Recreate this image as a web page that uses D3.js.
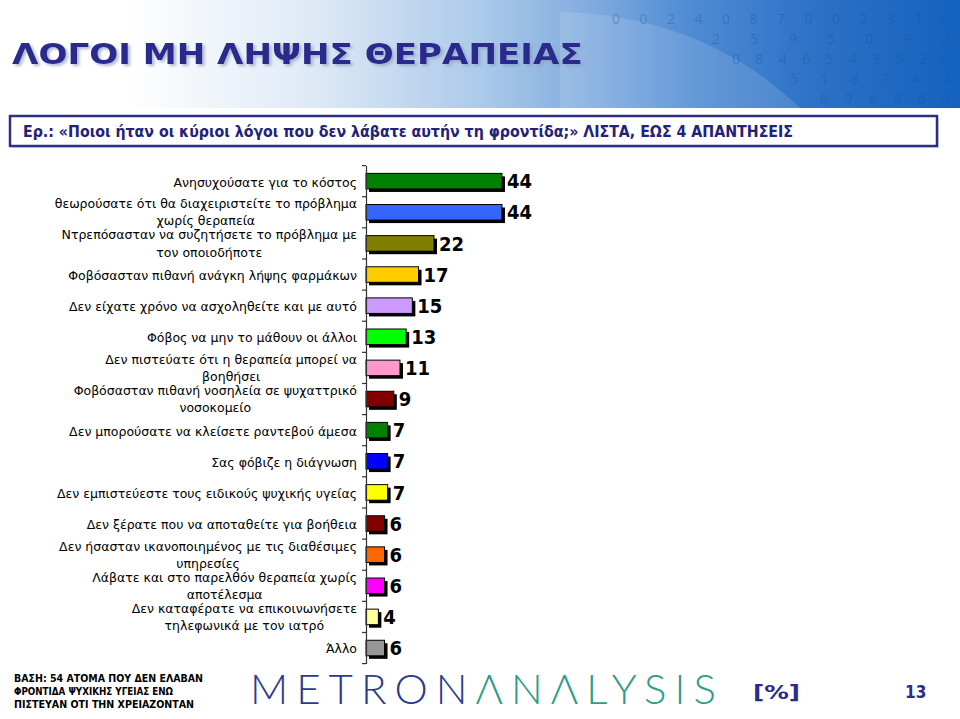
<!DOCTYPE html>
<html>
<head>
<meta charset="utf-8">
<script src="https://cdn.jsdelivr.net/npm/d3@7"></script>
<style>
  html, body { margin: 0; padding: 0; background: #ffffff; }
  svg { display: block; }
</style>
</head>
<body>
<svg id="chart" width="960" height="719"></svg>
<script>
// ---------------- DATA ----------------
const titleText = "ΛΟΓΟΙ ΜΗ ΛΗΨΗΣ ΘΕΡΑΠΕΙΑΣ";
const questionText = "Ερ.: «Ποιοι ήταν οι κύριοι λόγοι που δεν λάβατε αυτήν τη φροντίδα;» ΛΙΣΤΑ, ΕΩΣ 4 ΑΠΑΝΤΗΣΕΙΣ";
const categories = [
  "Ανησυχούσατε για το κόστος",
  "θεωρούσατε ότι θα διαχειριστείτε το πρόβλημα\nχωρίς θεραπεία",
  "Ντρεπόσασταν να συζητήσετε το πρόβλημα με\nτον οποιοδήποτε",
  "Φοβόσασταν πιθανή ανάγκη λήψης φαρμάκων",
  "Δεν είχατε χρόνο να ασχοληθείτε και με αυτό",
  "Φόβος να μην το μάθουν οι άλλοι",
  "Δεν πιστεύατε ότι η θεραπεία μπορεί να\nβοηθήσει",
  "Φοβόσασταν πιθανή νοσηλεία σε ψυχαττρικό\nνοσοκομείο",
  "Δεν μπορούσατε να κλείσετε ραντεβού άμεσα",
  "Σας φόβιζε η διάγνωση",
  "Δεν εμπιστεύεστε τους ειδικούς ψυχικής υγείας",
  "Δεν ξέρατε που να αποταθείτε για βοήθεια",
  "Δεν ήσασταν ικανοποιημένος με τις διαθέσιμες\nυπηρεσίες",
  "Λάβατε και στο παρελθόν θεραπεία χωρίς\nαποτέλεσμα",
  "Δεν καταφέρατε να επικοινωνήσετε\nτηλεφωνικά με τον ιατρό",
  "Άλλο"
];
const values = [44, 44, 22, 17, 15, 13, 11, 9, 7, 7, 7, 6, 6, 6, 4, 6];
const barColors = ["#008000", "#3366FF", "#808000", "#FFCC00", "#CC99FF", "#00FF00", "#FF99CC", "#800000",
                   "#008000", "#0000FF", "#FFFF00", "#800000", "#FF6600", "#FF00FF", "#FFFF99", "#969696"];
const footerLines = ["ΒΑΣΗ: 54 ΑΤΟΜΑ ΠΟΥ ΔΕΝ ΕΛΑΒΑΝ", "ΦΡΟΝΤΙΔΑ ΨΥΧΙΚΗΣ ΥΓΕΙΑΣ ΕΝΩ", "ΠΙΣΤΕΥΑΝ ΟΤΙ ΤΗΝ ΧΡΕΙΑΖΟΝΤΑΝ"];
const logoParts = ["METRON", "ΛNΛLYSIS"];
const unitText = "[%]";
const pageNumber = "13";
const decoDigits = [
  "0 0 2 4   0 8 7 0 0 2 3 1 6",
  "2 5 9 5 0   9 2",
  "0 8 4 6 5 4 3 5 2 6",
  "5 1 8 7 4 4",
  "6 9 6 9 6 9"
];

// ---------------- DRAW ----------------
const svg = d3.select("#chart");
const defs = svg.append("defs");

// header gradient
const hg = defs.append("linearGradient").attr("id", "hdr").attr("x1", "0").attr("x2", "1").attr("y1", "0").attr("y2", "0");
[[0, "#ffffff"], [0.13, "#ffffff"], [0.32, "#e0eaf6"], [0.5, "#accaea"], [0.62, "#7eaade"],
 [0.72, "#4f8bd3"], [0.85, "#2c71c6"], [1, "#1462bf"]].forEach(([o, c]) =>
  hg.append("stop").attr("offset", o).attr("stop-color", c));

const sh = defs.append("filter").attr("id", "tshadow").attr("x", "-5%").attr("y", "-20%").attr("width", "110%").attr("height", "150%");
sh.append("feDropShadow").attr("dx", 2).attr("dy", 2).attr("stdDeviation", 1.5).attr("flood-color", "#8e9cc0").attr("flood-opacity", 0.7);

svg.append("rect").attr("x", 0).attr("y", 0).attr("width", 960).attr("height", 108).attr("fill", "url(#hdr)");
svg.append("path").attr("d", "M560,108 L560,12 C660,14 740,50 800,108 Z").attr("fill", "#ffffff").attr("opacity", 0.13);

// decorative digits
const decoX = [612, 712, 732, 790, 820];
const deco = svg.append("g").attr("font-family", "'Open Sans', 'DejaVu Sans', sans-serif").attr("fill", "#1b4e97");
decoDigits.forEach((row, i) => {
  deco.append("text")
    .attr("x", decoX[i])
    .attr("y", 24 + i * 20)
    .attr("font-size", 14)
    .attr("opacity", 0.32)
    .attr("textLength", 950 - decoX[i])
    .attr("lengthAdjust", "spacing")
    .text(row);
});

// title (glyphs scaled horizontally to fit the reference width)
const title = svg.append("text")
  .attr("x", 0).attr("y", 0)
  .attr("font-family", "'DejaVu Sans', sans-serif")
  .attr("font-weight", "bold")
  .attr("font-size", 29)
  .attr("fill", "#2a2a8c")
  .attr("filter", "url(#tshadow)")
  .text(titleText);
const tw = title.node().getComputedTextLength();
title.attr("transform", `translate(12,64) scale(${571 / tw},1)`);

// question box
svg.append("rect").attr("x", 12).attr("y", 118).attr("width", 927).attr("height", 30).attr("fill", "#c9d3e6").attr("opacity", 0.6);
svg.append("rect").attr("x", 10).attr("y", 116).attr("width", 927).attr("height", 30)
  .attr("fill", "#ffffff").attr("stroke", "#2e2e85").attr("stroke-width", 2.5);
svg.append("text")
  .attr("x", 23).attr("y", 137)
  .attr("font-family", "'DejaVu Sans Condensed', 'DejaVu Sans', sans-serif")
  .attr("font-weight", "bold").attr("font-size", 15)
  .attr("fill", "#22227a")
  .attr("textLength", 770).attr("lengthAdjust", "spacingAndGlyphs")
  .text(questionText);

// chart
const axisX = 366;
const y = d3.scaleBand().domain(d3.range(categories.length)).range([165.6, 663.6]).paddingInner(0.5).paddingOuter(0.25);
const x = d3.scaleLinear().domain([0, 50]).range([axisX, axisX + 154.5]);

const g = svg.append("g");
// shadows
g.selectAll("rect.shadow").data(values).join("rect").attr("class", "shadow")
  .attr("x", x(0) + 3).attr("y", (d, i) => y(i) + 3)
  .attr("width", d => x(d) - x(0)).attr("height", y.bandwidth())
  .attr("fill", "#000000");
// bars
g.selectAll("rect.bar").data(values).join("rect").attr("class", "bar")
  .attr("x", x(0)).attr("y", (d, i) => y(i))
  .attr("width", d => x(d) - x(0)).attr("height", y.bandwidth())
  .attr("fill", (d, i) => barColors[i])
  .attr("stroke", "#000000").attr("stroke-width", 1);

// axis
const axis = d3.axisLeft(y).tickSize(0).tickFormat("");
const ag = svg.append("g").attr("transform", `translate(${axisX},0)`).call(axis);
ag.select(".domain").attr("stroke", "#333333").attr("stroke-width", 1.2);
const step = y.step();
const tickYs = d3.range(categories.length + 1).map(i => y.range()[0] + i * step);
ag.selectAll("line.tk").data(tickYs).join("line").attr("class", "tk")
  .attr("x1", -4).attr("x2", 0).attr("y1", d => d).attr("y2", d => d)
  .attr("stroke", "#333333").attr("stroke-width", 1.2);

// value labels
g.selectAll("text.val").data(values).join("text").attr("class", "val")
  .attr("x", d => x(d) + 5)
  .attr("y", (d, i) => y(i) + y.bandwidth() / 2)
  .attr("dy", "0.36em")
  .attr("font-family", "'DejaVu Sans Condensed', 'DejaVu Sans', sans-serif")
  .attr("font-weight", "bold").attr("font-size", 20)
  .attr("fill", "#000000")
  .text(d => d);

// category labels
const lab = svg.append("g")
  .attr("font-family", "'DejaVu Sans', sans-serif")
  .attr("font-size", 12.5).attr("fill", "#000000");
categories.forEach((c, i) => {
  const cy = y(i) + y.bandwidth() / 2;
  const lines = c.split("\n");
  if (lines.length === 1) {
    lab.append("text").attr("x", 357).attr("y", cy + 1).attr("dy", "0.35em")
      .attr("text-anchor", "end").text(lines[0]);
  } else {
    const t1 = lab.append("text").attr("x", 357).attr("y", cy - 8.5).attr("dy", "0.35em")
      .attr("text-anchor", "end").text(lines[0]);
    const w = t1.node().getComputedTextLength();
    lab.append("text").attr("x", 357 - w / 2).attr("y", cy + 8.8).attr("dy", "0.35em")
      .attr("text-anchor", "middle").text(lines[1]);
  }
});

// footer
const footerW = [189, 159, 180];
footerLines.forEach((t, i) => {
  svg.append("text").attr("x", 14).attr("y", 682 + i * 13)
    .attr("font-family", "'DejaVu Sans Condensed', 'DejaVu Sans', sans-serif")
    .attr("font-weight", "bold").attr("font-size", 10.5).attr("fill", "#000000")
    .attr("textLength", footerW[i]).attr("lengthAdjust", "spacingAndGlyphs")
    .text(t);
});

// logo
const logo = svg.append("text").attr("x", 250).attr("y", 704)
  .attr("font-family", "Lato, 'Open Sans', 'DejaVu Sans', sans-serif")
  .attr("font-weight", 300).attr("font-size", 42)
  .attr("textLength", 466).attr("lengthAdjust", "spacing");
logo.append("tspan").attr("fill", "#2b3c8e").text(logoParts[0]);
logo.append("tspan").attr("fill", "#2e9c86").text(logoParts[1]);

svg.append("text").attr("x", 753).attr("y", 699)
  .attr("font-family", "'DejaVu Sans', sans-serif").attr("font-weight", "bold").attr("font-size", 19)
  .attr("fill", "#2b2b8c").attr("textLength", 47).attr("lengthAdjust", "spacingAndGlyphs")
  .text(unitText);
svg.append("text").attr("x", 905).attr("y", 698)
  .attr("font-family", "'DejaVu Sans Condensed', 'DejaVu Sans', sans-serif").attr("font-weight", "bold").attr("font-size", 17)
  .attr("fill", "#2b2b8c")
  .text(pageNumber);
</script>
</body>
</html>
